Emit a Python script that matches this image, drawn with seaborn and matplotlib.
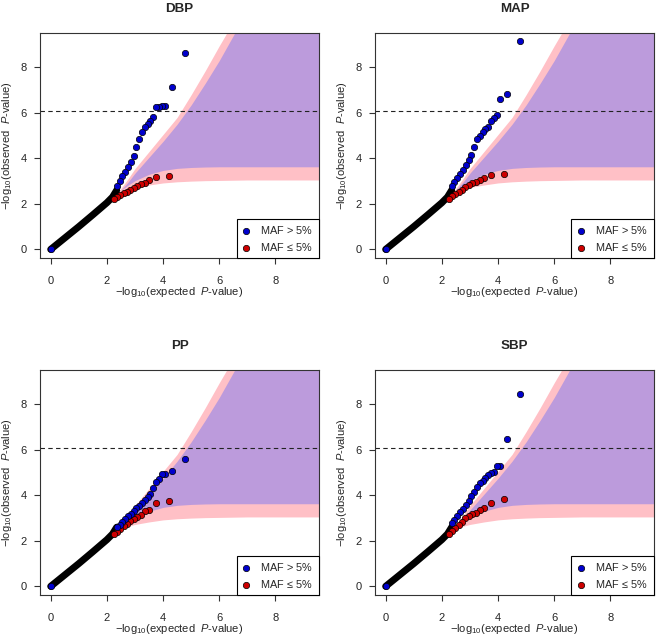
"""QQ plots of blood pressure association results, split by MAF."""

import matplotlib
matplotlib.use("Agg")
import matplotlib.pyplot as plt
import numpy as np
import pandas as pd
import seaborn as sns

# Panel titles, in reading order
traits = ["DBP", "MAP", "PP", "SBP"]

# Expected -log10(P) of the top common variants (MAF > 5%)
common_expected = [4.78, 4.31, 4.07, 3.95, 3.85, 3.75, 3.65, 3.55, 3.45, 3.35, 3.25,
                   3.15, 3.05, 2.95, 2.85, 2.75, 2.65, 2.55, 2.45, 2.35, 0.0]
dbp_common = [8.62, 7.15, 6.30, 6.28, 6.27, 6.25, 5.82, 5.65, 5.52, 5.38, 5.18,
              4.87, 4.50, 4.10, 3.85, 3.60, 3.40, 3.22, 3.00, 2.80, 0.0]
map_common = [9.16, 6.81, 6.61, 5.89, 5.78, 5.65, 5.40, 5.27, 5.15, 5.00, 4.85,
              4.50, 4.15, 3.95, 3.72, 3.50, 3.30, 3.12, 2.95, 2.78, 0.0]
pp_common = [5.59, 5.05, 4.95, 4.95, 4.70, 4.60, 4.30, 4.08, 3.92, 3.80, 3.68,
             3.55, 3.43, 3.32, 3.20, 3.08, 2.95, 2.82, 2.70, 2.60, 0.0]
sbp_common = [8.46, 6.48, 5.31, 5.31, 5.02, 4.97, 4.90, 4.78, 4.65, 4.52, 4.38,
              4.15, 3.95, 3.75, 3.58, 3.42, 3.25, 3.10, 2.90, 2.78, 0.0]

# Expected -log10(P) of the top rare variants (MAF <= 5%)
rare_expected = [4.20, 3.74, 3.50, 3.35, 3.20, 3.08, 2.96, 2.84, 2.72, 2.60, 2.48, 2.36, 2.24]
dbp_rare = [3.24, 3.19, 3.03, 2.93, 2.86, 2.80, 2.70, 2.62, 2.54, 2.46, 2.39, 2.30, 2.20]
map_rare = [3.31, 3.27, 3.15, 3.05, 2.97, 2.90, 2.82, 2.72, 2.62, 2.52, 2.43, 2.34, 2.22]
pp_rare = [3.73, 3.66, 3.36, 3.29, 3.15, 3.06, 2.98, 2.85, 2.74, 2.63, 2.52, 2.40, 2.28]
sbp_rare = [3.83, 3.68, 3.46, 3.37, 3.24, 3.18, 3.10, 3.00, 2.82, 2.68, 2.55, 2.42, 2.28]

# Bulk of all variants (dense black trace along the diagonal)
bulk_expected = [0.0, 0.5, 1.0, 1.5, 2.0, 2.2, 2.35]
bulk_observed = [0.0, 0.5, 1.0, 1.52, 2.05, 2.3, 2.6]

# Null confidence regions
pink_x = [2.4, 2.5, 2.75, 3.0, 3.5, 4.0, 4.5, 5.0, 5.5, 6.0, 6.5, 7.0, 8.0, 9.6]
pink_low = [2.5, 2.55, 2.64, 2.72, 2.83, 2.92, 2.97, 3.0, 3.02, 3.03, 3.04, 3.05, 3.05, 3.05]
pink_high = [2.5, 2.68, 3.1, 3.55, 4.3, 5.05, 5.8, 6.8, 7.85, 8.95, 10.0, 11.0, 13.0, 16.0]
purple_x = [2.5, 2.75, 3.0, 3.5, 4.0, 4.5, 5.0, 5.5, 6.0, 6.5, 7.0, 8.0, 9.6]
purple_low = [2.6, 2.82, 3.02, 3.3, 3.47, 3.56, 3.6, 3.62, 3.63, 3.63, 3.63, 3.63, 3.63]
purple_high = [2.6, 2.95, 3.35, 4.05, 4.75, 5.5, 6.35, 7.3, 8.3, 9.4, 10.5, 12.5, 15.0]

significance = 6.08
ticks = [0, 2, 4, 6, 8]

common_obs = [dbp_common, map_common, pp_common, sbp_common]
rare_obs = [dbp_rare, map_rare, pp_rare, sbp_rare]

sns.set_style("white")
plt.rcParams["font.family"] = ["Liberation Sans", "DejaVu Sans"]
plt.rcParams["mathtext.fontset"] = "custom"
plt.rcParams["mathtext.rm"] = "Liberation Sans"
plt.rcParams["mathtext.it"] = "Liberation Sans:italic"
plt.rcParams["mathtext.bf"] = "Liberation Sans:bold"

fig = plt.figure(figsize=(6.56, 6.36), dpi=100)
positions = [
    [0.0610, 0.5943, 0.4253, 0.3538],
    [0.5716, 0.5943, 0.4253, 0.3538],
    [0.0610, 0.0645, 0.4253, 0.3538],
    [0.5716, 0.0645, 0.4253, 0.3538],
]

blue = "#0000CD"
red = "#CD0000"
edge = "#333333"

for trait, pos, common, rare in zip(traits, positions, common_obs, rare_obs):
    ax = fig.add_axes(pos)

    # confidence regions
    ax.fill_between(pink_x, pink_low, pink_high, color="#FFC0C6", lw=0, zorder=1)
    ax.fill_between(purple_x, purple_low, purple_high, color="#BC9BDC", lw=0, zorder=1)

    ax.axhline(significance, color="#222222", ls="--", lw=0.8, dashes=(4, 3), zorder=2)

    bulk = pd.DataFrame({"expected": bulk_expected, "observed": bulk_observed})
    sns.lineplot(data=bulk, x="expected", y="observed", ax=ax, color="black",
                 linewidth=5, solid_capstyle="round", zorder=3)

    df_rare = pd.DataFrame({"expected": rare_expected, "observed": rare})
    sns.scatterplot(data=df_rare, x="expected", y="observed", ax=ax, color=red,
                    edgecolor="black", linewidth=0.5, s=21, zorder=4,
                    label=r"MAF$\,\leq\,$5%")

    df_common = pd.DataFrame({"expected": common_expected, "observed": common})
    sns.scatterplot(data=df_common, x="expected", y="observed", ax=ax, color=blue,
                    edgecolor="black", linewidth=0.5, s=21, zorder=5,
                    label=r"MAF$\,>\,$5%")

    ax.set_xlim(-0.38, 9.55)
    ax.set_ylim(-0.38, 9.51)
    ax.set_xticks(ticks)
    ax.set_yticks(ticks)
    ax.tick_params(bottom=True, left=True, direction="out", length=4.3, width=0.8,
                   color=edge, labelsize=8)
    ax.tick_params(axis="x", pad=9)
    ax.tick_params(axis="y", pad=5)
    for spine in ax.spines.values():
        spine.set_color(edge)
        spine.set_linewidth(0.8)

    ax.set_title(trait, fontsize=9.6, fontweight="bold", pad=15)
    ax.set_xlabel(r"$-$log$_{10}$(expected  $P$-value)", fontsize=8, va="center")
    ax.set_ylabel(r"$-$log$_{10}$(observed  $P$-value)", fontsize=8, va="center")
    ax.xaxis.set_label_coords(0.5, -0.153)
    ax.yaxis.set_label_coords(-0.118, 0.5)

    handles, labels = ax.get_legend_handles_labels()
    leg = ax.legend(handles[::-1], labels[::-1], loc="lower right", fontsize=7.8,
                    frameon=True, fancybox=False, framealpha=1, edgecolor="black",
                    borderaxespad=0, handlelength=0.8, handletextpad=0.9,
                    borderpad=0.5, labelspacing=0.4)
    leg.get_frame().set_linewidth(0.8)

fig.savefig("out.png", dpi=100)
plt.close(fig)
